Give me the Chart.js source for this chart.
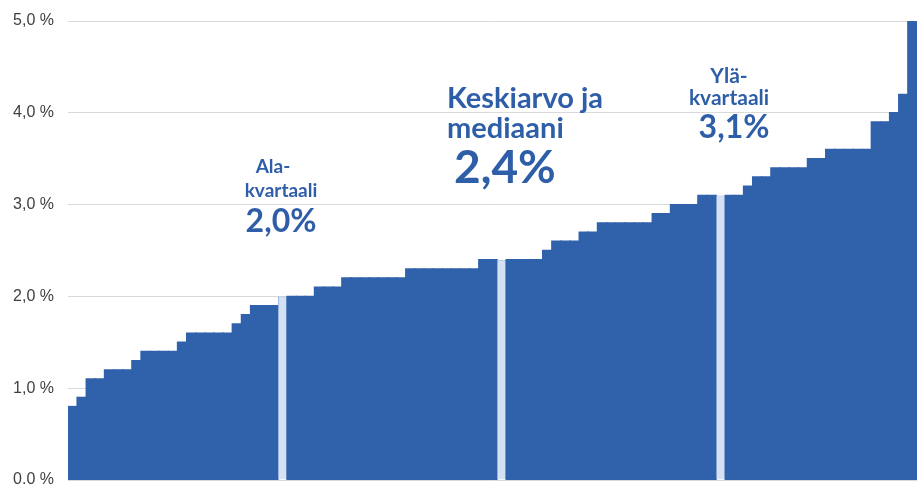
<!DOCTYPE html>
<html>
<head>
<meta charset="utf-8">
<script src="https://cdn.jsdelivr.net/npm/chart.js@4"></script>
<style>
  html, body { margin: 0; padding: 0; background: #fff; }
  #wrap { width: 917px; height: 486px; }
</style>
</head>
<body>
<div id="wrap"><canvas id="korot"></canvas></div>
<script>
// sorted values (%), one per bar
const values = [
    0.8, 0.9, 1.1, 1.1, 1.2, 1.2, 1.2, 1.3, 1.4, 1.4, 1.4, 1.4,
    1.5, 1.6, 1.6, 1.6, 1.6, 1.6, 1.7, 1.8, 1.9, 1.9, 1.9,
    2.0, 2.0, 2.0, 2.0,
    2.1, 2.1, 2.1,
    2.2, 2.2, 2.2, 2.2, 2.2, 2.2, 2.2,
    2.3, 2.3, 2.3, 2.3, 2.3, 2.3, 2.3, 2.3,
    2.4, 2.4, 2.4, 2.4, 2.4, 2.4, 2.4,
    2.5, 2.6, 2.6, 2.6, 2.7, 2.7,
    2.8, 2.8, 2.8, 2.8, 2.8, 2.8,
    2.9, 2.9, 3.0, 3.0, 3.0,
    3.1, 3.1, 3.1, 3.1, 3.1,
    3.2, 3.3, 3.3, 3.4, 3.4, 3.4, 3.4, 3.5, 3.5,
    3.6, 3.6, 3.6, 3.6, 3.6,
    3.9, 3.9, 4.0, 4.2, 5.0
];
const categories = values.map((v, i) => String(i + 1));

// bars drawn light: lower quartile, median, upper quartile
const highlighted = [23, 47, 71];

const yTickLabels = ['0.0 %', '1,0 %', '2,0 %', '3,0 %', '4,0 %', '5,0 %'];

const lowerLabel = ['Ala-', 'kvartaali', '2,0%'];
const middleLabel = ['Keskiarvo ja', 'mediaani', '2,4%'];
const upperLabel = ['Ylä-', 'kvartaali', '3,1%'];

const blue = '#3061ab';
const textBlue = '#2f5ea8';

const bgColors = values.map((v, i) => highlighted.includes(i) ? '#d4e1f3' : blue);
const borderColors = values.map((v, i) => highlighted.includes(i) ? '#9db7df' : blue);
const borderWidths = values.map((v, i) => highlighted.includes(i) ? 1 : 0);

function drawLine(ctx, text, x, y, size, align) {
    ctx.font = 'bold ' + size + 'px Lato, "Noto Sans", sans-serif';
    ctx.textAlign = align;
    ctx.fillText(text, x, y);
}

const labelsPlugin = {
    id: 'quartileLabels',
    afterDatasetsDraw(chart) {
        const ctx = chart.ctx;
        ctx.save();
        ctx.fillStyle = textBlue;
        ctx.textBaseline = 'alphabetic';

        drawLine(ctx, lowerLabel[0], 273, 173, 19, 'center');
        drawLine(ctx, lowerLabel[1], 281, 197, 19, 'center');
        drawLine(ctx, lowerLabel[2], 281, 232, 32, 'center');

        drawLine(ctx, middleLabel[0], 447, 108, 29, 'left');
        drawLine(ctx, middleLabel[1], 447, 138, 29, 'left');
        drawLine(ctx, middleLabel[2], 454, 183, 46, 'left');

        drawLine(ctx, upperLabel[0], 729, 83, 21, 'center');
        drawLine(ctx, upperLabel[1], 729, 105, 21, 'center');
        drawLine(ctx, upperLabel[2], 734, 138, 32, 'center');
        ctx.restore();
    }
};

const ctx = document.getElementById('korot').getContext('2d');
const chart = new Chart(ctx, {
    type: 'bar',
    data: {
        labels: categories,
        datasets: [{
            data: values,
            backgroundColor: bgColors,
            borderColor: borderColors,
            borderWidth: borderWidths,
            // widen the blue bars a bit so no seams show between them
            inflateAmount: (c) => highlighted.includes(c.dataIndex) ? 0 : 0.7,
            barPercentage: 1,
            categoryPercentage: 1
        }]
    },
    options: {
        responsive: true,
        maintainAspectRatio: false,
        animation: false,
        layout: { padding: { top: 21, bottom: 6, left: 0, right: 0 } },
        plugins: {
            legend: { display: false },
            tooltip: { enabled: false }
        },
        scales: {
            x: { display: false },
            y: {
                min: 0,
                max: 5,
                ticks: {
                    stepSize: 1,
                    padding: 14,
                    color: '#404040',
                    font: { family: '"Liberation Sans", Arial, sans-serif', size: 16 },
                    callback: (v, i) => yTickLabels[i]
                },
                grid: { color: '#d9d9d9', drawTicks: false },
                border: { display: false },
                afterFit(scale) {
                    scale.width = 68;
                    scale.paddingTop = 0;
                    scale.paddingBottom = 0;
                }
            }
        }
    },
    plugins: [labelsPlugin]
});
</script>
</body>
</html>
